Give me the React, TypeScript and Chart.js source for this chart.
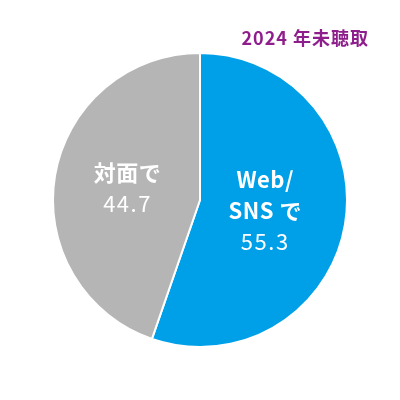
import React, { useEffect, useRef } from "react";
import { Chart, registerables } from "chart.js";

Chart.register(...registerables);

const categories = ["Web/\nSNS で", "対面で"];
const values = [55.3, 44.7];
const colors = ["#00A0E9", "#B5B5B5"];
const titleText = "2024 年未聴取";

const FONT = '"Noto Sans CJK JP", "Noto Sans", sans-serif';

const labelPlugin = {
  id: "sliceLabels",
  afterDatasetsDraw(chart: any) {
    const { ctx } = chart;
    const meta = chart.getDatasetMeta(0);
    const fracs = [0.45, 0.5];
    meta.data.forEach((arc: any, i: number) => {
      const p = arc.getProps(["x", "y", "startAngle", "endAngle", "outerRadius"], true);
      const mid = (p.startAngle + p.endAngle) / 2;
      const r = p.outerRadius * fracs[i];
      const cx = p.x + Math.cos(mid) * r;
      const cy = p.y + Math.sin(mid) * r;
      const lines = categories[i].split("\n");
      const all = [...lines, String(values[i])];
      const lh = 31;
      const startY = cy - ((all.length - 1) * lh) / 2;
      ctx.save();
      ctx.fillStyle = "#ffffff";
      ctx.textAlign = "center";
      ctx.textBaseline = "middle";
      all.forEach((t, j) => {
        const isVal = j === all.length - 1;
        ctx.font = `${isVal ? "normal" : "bold"} 22px ${FONT}`;
        (ctx as any).letterSpacing = isVal ? "1.5px" : "0.5px";
        ctx.fillText(t, cx, startY + j * lh);
      });
      ctx.restore();
    });
    ctx.save();
    ctx.fillStyle = "#8E1E8C";
    ctx.font = `bold 18px ${FONT}`;
    (ctx as any).letterSpacing = "1px";
    ctx.textAlign = "right";
    ctx.textBaseline = "middle";
    ctx.fillText(titleText, 369, 38);
    ctx.restore();
  },
};

export default function App() {
  const ref = useRef<HTMLCanvasElement>(null);
  useEffect(() => {
    document.body.style.margin = "0";
    const chart = new Chart(ref.current!, {
      type: "pie",
      data: {
        labels: categories,
        datasets: [
          {
            data: values,
            backgroundColor: colors,
            borderColor: "#ffffff",
            borderWidth: 2,
          },
        ],
      },
      options: {
        responsive: false,
        animation: false,
        layout: { padding: 52 },
        plugins: {
          legend: { display: false },
          tooltip: { enabled: false },
          title: { display: false },
        },
      },
      plugins: [labelPlugin],
    });
    return () => chart.destroy();
  }, []);
  return (
    <div style={{ width: 400, height: 400 }}>
      <canvas ref={ref} width={400} height={400} />
    </div>
  );
}
